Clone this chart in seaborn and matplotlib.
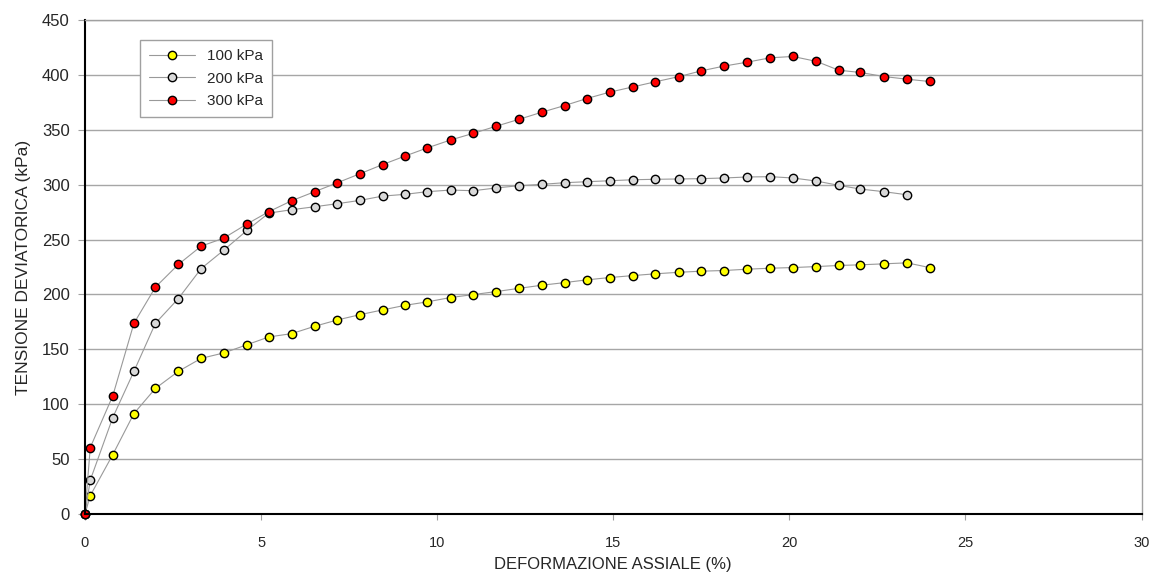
import matplotlib
matplotlib.use("Agg")
import matplotlib.pyplot as plt
import seaborn as sns
import pandas as pd

# deformazione assiale (%) e tensione deviatorica (kPa) per le tre prove
deformazione = [0, 0.15, 0.79, 1.39, 2.0, 2.65, 3.3, 3.94, 4.61, 5.22, 5.87, 6.52, 7.17,
                7.81, 8.45, 9.09, 9.71, 10.38, 11.03, 11.67, 12.33, 12.97, 13.62, 14.25,
                14.9, 15.56, 16.19, 16.87, 17.5, 18.14, 18.8, 19.46, 20.1, 20.77, 21.4,
                22.02, 22.69, 23.34, 23.98]

tens_100 = [0, 16.7, 54.1, 91.5, 114.4, 129.9, 141.8, 146.7, 154.3, 161.3, 164.3, 171.0,
            176.8, 181.6, 185.9, 190.1, 193.2, 197.2, 199.9, 202.6, 205.6, 208.4, 210.8,
            213.3, 215.4, 217.2, 218.8, 220.2, 221.2, 221.8, 223.0, 223.9, 224.5, 225.4,
            226.4, 227.0, 227.9, 228.8, 224.5]

tens_200 = [0, 30.8, 87.9, 129.9, 173.7, 196.2, 223.6, 240.3, 258.6, 274.1, 277.2, 279.9,
            282.7, 285.7, 289.6, 291.2, 293.6, 295.1, 294.5, 297.0, 299.1, 300.3, 301.8,
            302.7, 303.6, 304.5, 304.9, 305.2, 305.5, 306.1, 307.0, 307.3, 306.1, 303.3,
            299.4, 296.0, 293.6, 290.8]

tens_300 = [0, 60.5, 107.7, 173.7, 206.6, 227.3, 244.0, 251.3, 264.4, 275.4, 285.4, 293.6,
            301.8, 310.0, 318.3, 326.1, 333.4, 340.7, 346.8, 353.2, 359.6, 366.0, 372.1,
            378.5, 384.3, 389.1, 393.7, 398.5, 403.7, 408.0, 411.6, 415.6, 416.8, 412.3,
            404.3, 402.2, 398.5, 396.1, 394.0]

etichette = ["100 kPa", "200 kPa", "300 kPa"]
colori = ["#ffff00", "#d9d9d9", "#ff0000"]

sns.set_style("white")
plt.rcParams["font.family"] = ["Liberation Sans", "DejaVu Sans"]

fig = plt.figure(figsize=(11.56, 5.77), dpi=100)
ax = fig.add_axes([0.0735, 0.1092, 0.914, 0.8561])

for y, lab, col in zip([tens_100, tens_200, tens_300], etichette, colori):
    df = pd.DataFrame({"x": deformazione[:len(y)], "y": y})
    sns.lineplot(data=df, x="x", y="y", ax=ax, sort=False, estimator=None,
                 color="#999999", linewidth=0.8, marker="o", markersize=6,
                 markerfacecolor=col, markeredgecolor="black", markeredgewidth=1.0,
                 label=lab, clip_on=False)

ax.set_xlim(0, 30)
ax.set_ylim(0, 450)
ax.set_xticks(range(0, 31, 5))
ax.set_yticks(range(0, 451, 50))
ax.yaxis.grid(True, color="#a6a6a6", linewidth=1)
ax.xaxis.grid(False)
ax.set_axisbelow(True)

for s in ["top", "right"]:
    ax.spines[s].set_color("#a0a0a0")
    ax.spines[s].set_linewidth(1)
for s in ["left", "bottom"]:
    ax.spines[s].set_color("black")
    ax.spines[s].set_linewidth(1.5)

ax.tick_params(axis="y", which="both", left=True, length=5, color="#a0a0a0",
               labelsize=12, pad=6)
ax.tick_params(axis="x", which="both", bottom=True, length=4, color="#a0a0a0",
               labelsize=10.5, pad=12)

ax.set_xlabel("DEFORMAZIONE ASSIALE (%)", fontsize=12, labelpad=5)
ax.set_ylabel("TENSIONE DEVIATORICA (kPa)", fontsize=12.5, labelpad=8)

leg = ax.legend(loc="upper left", bbox_to_anchor=(0.052, 0.959), borderaxespad=0,
                fancybox=False, frameon=True, edgecolor="#a0a0a0", framealpha=1,
                fontsize=11, handlelength=3, labelspacing=0.55, borderpad=0.6)
leg.get_frame().set_linewidth(1)

fig.savefig("out.png", dpi=100)
